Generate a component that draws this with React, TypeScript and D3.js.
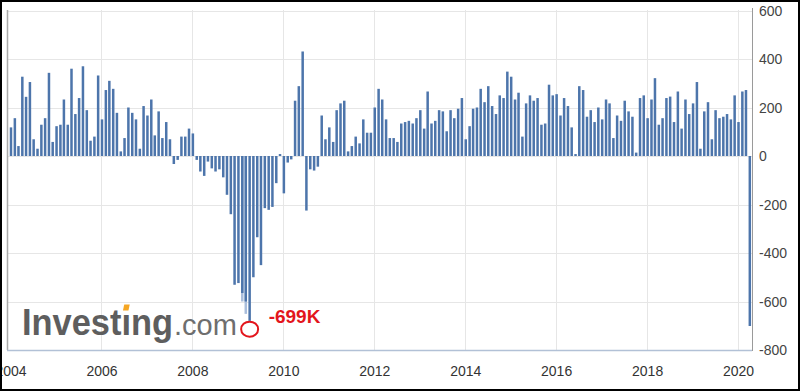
import { useEffect, useRef } from 'react';
import * as d3 from 'd3';

// Monthly change in nonfarm payrolls (K), one bar per release month, Jan 2004 .. Apr 2020
const payrollChanges = [
  // 2004
  118, 156, 41, 327, 244, 305, 69, 30, 129, 156, 343, 58,
  // 2005
  123, 129, 233, 129, 360, 173, 239, 370, 189, 63, 80, 332,
  // 2006
  151, 272, 310, 277, 178, 19, 74, 200, 178, 151, 30, 206,
  // 2007
  167, 233, 85, 184, 74, 140, 69, -33, -16, 80, 80, 113,
  // 2008
  93, -16, -64, -82, -23, -51, -64, -55, -88, -160, -240, -531,
  // 2009
  -524, -565, -600, -680, -500, -335, -450, -215, -222, -210, -112, 8,
  // 2010
  -154, -27, -14, 228, 288, 431, -225, -55, -60, -44, 167, 69,
  // 2011
  118, 58, 189, 217, 228, 19, 41, 80, 52, 151, 96, 96,
  // 2012
  200, 277, 233, 151, 74, 74, 58, 134, 140, 145, 134, 156,
  // 2013
  189, 113, 266, 134, 145, 189, 184, 102, 189, 156, 195, 239,
  // 2014
  69, 123, 195, 200, 277, 222, 288, 206, 173, 250, 239, 348,
  // 2015
  327, 233, 261, 80, 217, 250, 228, 239, 129, 134, 294, 250,
  // 2016
  255, 167, 239, 206, 118, 8, 288, 272, 162, 189, 140, 200,
  // 2017
  151, 233, 217, 74, 167, 145, 228, 184, 162, 14, 239, 250,
  // 2018
  156, 233, 321, 129, 156, 239, 245, 140, 266, 113, 233, 173,
  // 2019
  217, 305, 30, 184, 222, 69, 189, 156, 162, 173, 151, 250,
  // 2020
  140, 266, 272, -701,
];

const firstYear = 2004;
const yTicks = [600, 400, 200, 0, -200, -400, -600, -800];
const xTickYears = [2004, 2006, 2008, 2010, 2012, 2014, 2016, 2018, 2020];

// faded bars showing behind the 2009 trough
const ghostMonths = [61, 62];
const ghostValues = [-600, -651];

// red marker
const markedMonth = 63;
const markedValue = -699;
const markedLabel = '-699K';

export default function App() {
  const svgRef = useRef<SVGSVGElement | null>(null);

  const width = 800;
  const height = 391;
  const plot = { left: 7, top: 10, right: 752, bottom: 350 };

  useEffect(() => {
    const svg = d3.select(svgRef.current);
    svg.selectAll('*').remove();

    const monthDate = (i: number) => new Date(firstYear, i, 5);

    const xScale = d3
      .scaleTime()
      .domain([new Date(2004, 0, 1), new Date(2020, 0, 1)])
      .range([10, 737.5]);

    const yScale = d3
      .scaleLinear()
      .domain([600, -800])
      .range([plot.top + 0.5, plot.bottom]);

    svg
      .append('rect')
      .attr('width', width)
      .attr('height', height)
      .attr('fill', '#fff');

    // gridlines
    const grid = svg.append('g').attr('class', 'grid');
    grid
      .selectAll('.h')
      .data(yTicks)
      .join('line')
      .attr('class', 'h')
      .attr('x1', plot.left)
      .attr('x2', plot.right)
      .attr('y1', (d) => Math.round(yScale(d)) + 0.5)
      .attr('y2', (d) => Math.round(yScale(d)) + 0.5)
      .attr('stroke', '#e6e6e6');
    grid
      .selectAll('.v')
      .data(xTickYears.slice(1))
      .join('line')
      .attr('class', 'v')
      .attr('x1', (d) => Math.round(xScale(new Date(d, 0, 1))) + 0.5)
      .attr('x2', (d) => Math.round(xScale(new Date(d, 0, 1))) + 0.5)
      .attr('y1', plot.top)
      .attr('y2', plot.bottom)
      .attr('stroke', '#e6e6e6');

    // plot frame
    svg
      .append('line')
      .attr('x1', plot.left + 0.5)
      .attr('x2', plot.left + 0.5)
      .attr('y1', plot.top)
      .attr('y2', plot.bottom)
      .attr('stroke', '#a9a9a9')
      .attr('stroke-width', 1.5);
    svg
      .append('line')
      .attr('x1', plot.left)
      .attr('x2', plot.right)
      .attr('y1', plot.bottom + 0.5)
      .attr('y2', plot.bottom + 0.5)
      .attr('stroke', '#b2c1d6')
      .attr('stroke-width', 1.5);

    // bars
    const barWidth = 2.5;
    const bars = svg.append('g').attr('class', 'bars');
    bars
      .selectAll('.ghost')
      .data(ghostValues)
      .join('rect')
      .attr('class', 'ghost')
      .attr('x', (_, k) => xScale(monthDate(ghostMonths[k])) - barWidth / 2 + 0.5)
      .attr('y', yScale(0))
      .attr('width', barWidth)
      .attr('height', (d) => yScale(d) - yScale(0))
      .attr('fill', '#a9bddb');
    bars
      .selectAll('.bar')
      .data(payrollChanges)
      .join('rect')
      .attr('class', 'bar')
      .attr('x', (_, i) => xScale(monthDate(i)) - barWidth / 2 + 0.5)
      .attr('y', (d) => yScale(Math.max(0, d)))
      .attr('width', barWidth)
      .attr('height', (d) => Math.abs(yScale(d) - yScale(0)))
      .attr('fill', '#4d75ab');

    // right axis line
    svg
      .append('line')
      .attr('x1', plot.right + 0.5)
      .attr('x2', plot.right + 0.5)
      .attr('y1', plot.top - 2)
      .attr('y2', plot.bottom + 1)
      .attr('stroke', '#9a9a9a');

    // y labels
    svg
      .append('g')
      .selectAll('text')
      .data(yTicks)
      .join('text')
      .attr('x', plot.right + 7)
      .attr('y', (d) => yScale(d) + 5)
      .attr('font-family', 'Liberation Sans, Arial, sans-serif')
      .attr('font-size', 14)
      .attr('fill', '#444')
      .text((d) => d);

    // x labels
    svg
      .append('g')
      .selectAll('text')
      .data(xTickYears)
      .join('text')
      .attr('x', (d) => xScale(new Date(d, 0, 1)) + 1)
      .attr('y', 376)
      .attr('text-anchor', 'middle')
      .attr('font-family', 'Liberation Sans, Arial, sans-serif')
      .attr('font-size', 14)
      .attr('fill', '#333')
      .text((d) => d);

    // Investing.com watermark
    const logo = svg.append('g').attr('class', 'logo');
    const brand = logo
      .append('text')
      .attr('x', 22)
      .attr('y', 335)
      .attr('font-family', 'Liberation Sans, Arial, sans-serif')
      .attr('font-weight', 'bold')
      .attr('font-size', 37)
      .attr('fill', '#5e5e5e')
      .attr('textLength', 151)
      .attr('lengthAdjust', 'spacingAndGlyphs')
      .text('Invest\u0131ng');
    logo
      .append('text')
      .attr('x', 174)
      .attr('y', 335)
      .attr('font-family', 'Liberation Sans, Arial, sans-serif')
      .attr('font-size', 29)
      .attr('fill', '#6e6e6e')
      .text('.com');

    // orange dot over the second i
    const node = brand.node() as SVGTextElement | null;
    if (node) {
      const ext = node.getExtentOfChar(6);
      logo
        .append('rect')
        .attr('x', ext.x + ext.width / 2 - 2.5)
        .attr('y', 304.5)
        .attr('width', 5.5)
        .attr('height', 6)
        .attr('transform', `skewX(-12)`)
        .attr('transform-origin', `${ext.x + ext.width / 2} 307`)
        .attr('fill', '#f5a623');
    }

    // red marker at the trough
    const mx = xScale(monthDate(markedMonth)) + 0.5;
    svg
      .append('ellipse')
      .attr('cx', mx)
      .attr('cy', yScale(markedValue - 15))
      .attr('rx', 8.5)
      .attr('ry', 7.5)
      .attr('fill', 'none')
      .attr('stroke', '#e3151c')
      .attr('stroke-width', 2);
    svg
      .append('text')
      .attr('x', mx + 19)
      .attr('y', 323)
      .attr('font-family', 'Liberation Sans, Arial, sans-serif')
      .attr('font-weight', 'bold')
      .attr('font-size', 19)
      .attr('fill', '#e3151c')
      .text(markedLabel);

    // outer black border
    svg
      .append('rect')
      .attr('x', 1)
      .attr('y', 1)
      .attr('width', width - 2)
      .attr('height', height - 2)
      .attr('fill', 'none')
      .attr('stroke', '#000')
      .attr('stroke-width', 2);
  }, []);

  return (
    <div style={{ position: 'absolute', left: 0, top: 0 }}>
      <svg ref={svgRef} width={width} height={height} style={{ display: 'block' }}></svg>
    </div>
  );
}
